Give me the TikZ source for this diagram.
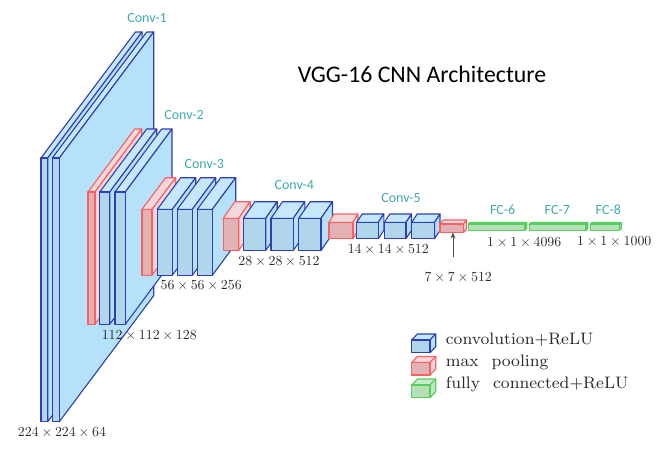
\documentclass[tikz,border=0pt]{standalone}
\usepackage{fontspec}
\newfontfamily\calibrifont{Carlito}
\newfontfamily\sizefont{lmroman10-regular.otf}
\newfontfamily\legendfont{lmroman8-regular.otf}[WordSpace=2.2]
\usetikzlibrary{arrows.meta}
\definecolor{convline}{HTML}{2B40B4}
\definecolor{convfront}{HTML}{B1D5EA}
\definecolor{convside}{HTML}{B6E1FA}
\definecolor{convtop}{HTML}{C6E7FC}
\definecolor{poolline}{HTML}{FA5F62}
\definecolor{poolfront}{HTML}{E2B1B4}
\definecolor{poolside}{HTML}{F4D6D8}
\definecolor{pooltop}{HTML}{F2D8DA}
\definecolor{fcline}{HTML}{55CF60}
\definecolor{fcfront}{HTML}{B6DFB8}
\definecolor{fcside}{HTML}{BFE8C2}
\definecolor{fctop}{HTML}{C8EBCA}
\definecolor{convtext}{HTML}{3FA9AB}
\definecolor{sizetext}{HTML}{2A2A2A}
\newcommand{\bytimes}{\hspace{.2em}×\hspace{.2em}}
\tikzset{
  front face/.style={draw=#1line,fill=#1front,line width=1.1pt,line join=round},
  side face/.style={draw=#1line,fill=#1side,line width=1.1pt,line join=round},
  top face/.style={draw=#1line,fill=#1top,line width=1.1pt,line join=round},
  conv label/.style={text=convtext,font=\calibrifont\fontsize{14}{15}\selectfont,inner sep=0pt},
  size label/.style={text=sizetext,font=\sizefont\fontsize{13.85}{15}\selectfont,inner sep=0pt},
  legend label/.style={text=sizetext,font=\legendfont\fontsize{16.6}{19}\selectfont,inner sep=0pt,anchor=west},
}
\begin{document}
\begin{tikzpicture}[x=1pt,y=-1pt]
\useasboundingbox (0,0) rectangle (658,453);

% xa/xb/ytop/ybot/dx/dy/kind
\foreach \xa/\xb/\yt/\yb/\dx/\dy/\kind in {
  41/47.7/158/421.7/94.4/126/conv, 52.3/59.3/158/421.7/94.4/126/conv,
  88/95/192/324.3/46.7/63/pool, 99.7/109.7/192/324.3/47/63/conv, 115/125.3/192/324.3/46.7/63/conv,
  142/152/209.3/275.3/23.7/31.6/pool, 157.3/172.3/209.3/275.3/23.4/31.6/conv,
  177.3/192.3/209.3/275.3/23.4/31.6/conv, 197.3/212.3/209.3/275.3/23.4/31.6/conv,
  223.3/238.7/218.3/250.5/11.5/16.6/pool, 243.3/265.7/218.3/250.5/11.5/16.6/conv,
  271/293.3/218.3/250.5/11.5/16.6/conv, 298.7/321/218.3/250.5/11.5/16.6/conv,
  329/353/222.3/238.7/5/8.3/pool, 356.7/378.3/222.3/238.7/5.5/8.3/conv,
  384.3/406/222.3/238.7/5.5/8.3/conv, 411.7/434.5/222.3/238.7/5.5/8.3/conv,
  440/463.5/224/232.7/3/4/pool,
  468.3/525/224/230.3/1.7/1.6/fc, 529.3/586/224/230.3/1.7/1.6/fc, 590.3/619.5/224/230.3/1.7/1.6/fc,
  % legend
  411.7/430/340/352.7/5.7/6/conv, 411.7/430/362.5/375/5.7/6/pool, 411.7/430/385/397.7/5.7/6/fc}{
  \draw[top face=\kind] (\xa,\yt) -- (\xa+\dx,\yt-\dy) -- (\xb+\dx,\yt-\dy) -- (\xb,\yt) -- cycle;
  \draw[side face=\kind] (\xb,\yt) -- (\xb+\dx,\yt-\dy) -- (\xb+\dx,\yb-\dy) -- (\xb,\yb) -- cycle;
  \draw[front face=\kind] (\xa,\yt) rectangle (\xb,\yb);
}

\node[conv label] (conv1) at (147,18.3) {Conv-1};
\node[conv label] (conv2) at (184,115) {Conv-2};
\node[conv label] (conv3) at (204.3,164.3) {Conv-3};
\node[conv label] (conv4) at (294.3,185.3) {Conv-4};
\node[conv label] (conv5) at (401,198.3) {Conv-5};
\node[conv label] (fc6) at (502.7,210) {FC-6};
\node[conv label] (fc7) at (557.3,210) {FC-7};
\node[conv label] (fc8) at (608.3,210) {FC-8};

\node[size label] (size1) at (62,431.7) {224\bytimes 224\bytimes 64};
\node[size label] (size2) at (149.3,335) {112\bytimes 112\bytimes 128};
\node[size label] (size3) at (201.2,285) {56\bytimes 56\bytimes 256};
\node[size label] (size4) at (279,260.7) {28\bytimes 28\bytimes 512};
\node[size label] (size5) at (388.3,249) {14\bytimes 14\bytimes 512};
\node[size label] (size6) at (458.3,276.7) {7\bytimes 7\bytimes 512};
\node[size label] (size7) at (524.2,241.7) {1\bytimes 1\bytimes 4096};
\node[size label] (size8) at (614.3,240.7) {1\bytimes 1\bytimes 1000};

\coordinate (pool5) at (453,232.5);
\coordinate (pool5 tail) at (453,257);
\draw[-{Stealth[length=6pt,width=5pt]},draw=black!70,line width=0.7pt] (pool5 tail) -- (pool5);

\node[text=black,font=\calibrifont\fontsize{23.8}{26}\selectfont,inner sep=0pt] (title) at (422,74) {VGG-16 CNN Architecture};

\node[legend label] (legend conv) at (445.7,340) {convolution+ReLU};
\node[legend label] (legend pool) at (445.7,362.7) {max pooling};
\node[legend label] (legend fc) at (445.7,384) {fully connected+ReLU};
\end{tikzpicture}
\end{document}
